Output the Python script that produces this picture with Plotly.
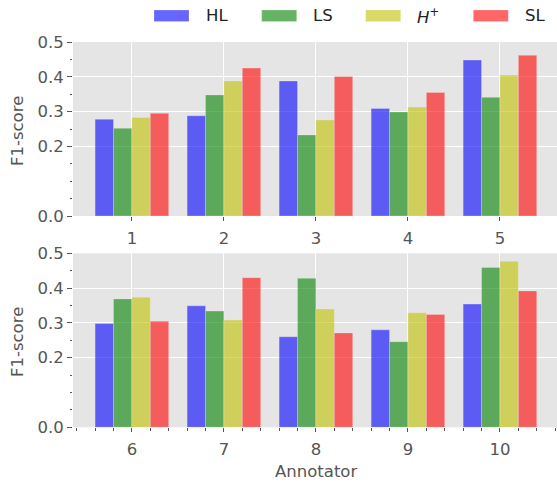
import plotly.graph_objects as go

W, H = 557, 483

series = ["HL", "LS", "H+", "SL"]
series_labels = ["HL", "LS", "<i>H</i><sup>+</sup>", "SL"]
colors = ["rgba(0,0,255,0.6)", "rgba(0,128,0,0.6)", "rgba(191,191,0,0.6)", "rgba(255,0,0,0.6)"]

annot_top = [1, 2, 3, 4, 5]
annot_bot = [6, 7, 8, 9, 10]

HL_top = [0.278, 0.288, 0.388, 0.309, 0.448]
LS_top = [0.252, 0.348, 0.233, 0.299, 0.341]
Hp_top = [0.283, 0.388, 0.276, 0.313, 0.405]
SL_top = [0.295, 0.425, 0.401, 0.355, 0.462]

HL_bot = [0.298, 0.349, 0.260, 0.280, 0.354]
LS_bot = [0.369, 0.334, 0.428, 0.246, 0.459]
Hp_bot = [0.374, 0.308, 0.340, 0.329, 0.477]
SL_bot = [0.305, 0.430, 0.271, 0.324, 0.392]

y_ticks = [0.0, 0.2, 0.3, 0.4, 0.5]
y_ticktext = ["0.0", "0.2", "0.3", "0.4", "0.5"]
y_minor = [0.05, 0.1, 0.15, 0.25, 0.35, 0.45]

top_vals = [HL_top, LS_top, Hp_top, SL_top]
bot_vals = [HL_bot, LS_bot, Hp_bot, SL_bot]

fig = go.Figure()
for name, col, v in zip(series, colors, top_vals):
    fig.add_trace(go.Bar(x=annot_top, y=v, name=name, marker=dict(color=col, line=dict(color="rgba(238,238,238,0.6)", width=0.5)),
                         xaxis="x", yaxis="y", offsetgroup=name, showlegend=False))
for name, col, v in zip(series, colors, bot_vals):
    fig.add_trace(go.Bar(x=annot_bot, y=v, name=name, marker=dict(color=col, line=dict(color="rgba(238,238,238,0.6)", width=0.5)),
                         xaxis="x2", yaxis="y2", offsetgroup=name, showlegend=False))

FONT = "DejaVu Sans"
GREY = "#555555"
FS = 16.5
tickfont = dict(family=FONT, size=FS, color=GREY)

xdom = [73 / W, 1.0]
ydom_top = [1 - 216 / H, 1 - 42 / H]
ydom_bot = [1 - 427.3 / H, 1 - 253.3 / H]

common_x = dict(showgrid=True, gridcolor="white", gridwidth=1.2, zeroline=False, showline=False,
                ticks="outside", ticklen=4, tickwidth=1, tickcolor=GREY, tickfont=tickfont,
                ticklabelstandoff=3, automargin=False, fixedrange=True)
common_y = dict(showgrid=True, gridcolor="white", gridwidth=1.2, zeroline=False, showline=False,
                ticks="outside", ticklen=5, tickwidth=1, tickcolor=GREY, tickfont=tickfont,
                tickmode="array", tickvals=y_ticks, ticktext=y_ticktext, range=[0, 0.5],
                minor=dict(tickmode="array", tickvals=y_minor, ticks="outside", ticklen=2.5, tickwidth=0.8,
                           tickcolor=GREY, showgrid=False),
                automargin=False, fixedrange=True)

fig.update_layout(
    width=W, height=H,
    margin=dict(l=0, r=0, t=0, b=0),
    paper_bgcolor="white", plot_bgcolor="#E5E5E5",
    barmode="group", bargap=0.2, bargroupgap=0,
    showlegend=False,
    font=dict(family=FONT, size=FS, color=GREY),
    xaxis=dict(domain=xdom, anchor="y", range=[0.36, 5.62], tickmode="array", tickvals=annot_top,
               ticktext=[str(a) for a in annot_top], **common_x),
    yaxis=dict(domain=ydom_top, anchor="x", **common_y),
    xaxis2=dict(domain=xdom, anchor="y2", range=[5.36, 10.62], tickmode="array", tickvals=annot_bot,
                ticktext=[str(a) for a in annot_bot],
                minor=dict(tickmode="linear", tick0=0, dtick=0.2, ticks="outside", ticklen=2.5, tickwidth=0.8,
                           tickcolor=GREY, showgrid=False),
                **common_x),
    yaxis2=dict(domain=ydom_bot, anchor="x2", **common_y),
)

# axis titles
title_font = dict(family=FONT, size=FS, color=GREY)
fig.add_annotation(text="F1-score", xref="paper", yref="paper", x=17 / W, y=1 - 131 / H,
                   xanchor="center", yanchor="middle", textangle=-90, showarrow=False, font=title_font)
fig.add_annotation(text="F1-score", xref="paper", yref="paper", x=17 / W, y=1 - 342 / H,
                   xanchor="center", yanchor="middle", textangle=-90, showarrow=False, font=title_font)
fig.add_annotation(text="Annotator", xref="paper", yref="paper", x=315.5 / W, y=1 - 471 / H,
                   xanchor="center", yanchor="middle", showarrow=False, font=title_font)

# legend (patches + labels)
patch_x = [154, 261.7, 365.7, 473.3]
text_x = [204, 311, 415, 523]
for px, tx, col, lab in zip(patch_x, text_x, colors, series_labels):
    fig.add_shape(type="rect", xref="paper", yref="paper", x0=px / W, x1=(px + 35) / W,
                  y0=1 - 21.6 / H, y1=1 - 10 / H, fillcolor=col, line=dict(color="rgba(238,238,238,0.6)", width=0.5))
    fig.add_annotation(text=lab, xref="paper", yref="paper", x=tx / W, y=1 - 16 / H, xanchor="left",
                       yanchor="middle", showarrow=False, font=dict(family=FONT, size=FS, color="#222222"))

fig.write_html("out.html", config={"displayModeBar": False},
               post_script="document.body.style.margin='0';document.body.style.overflow='hidden';")
